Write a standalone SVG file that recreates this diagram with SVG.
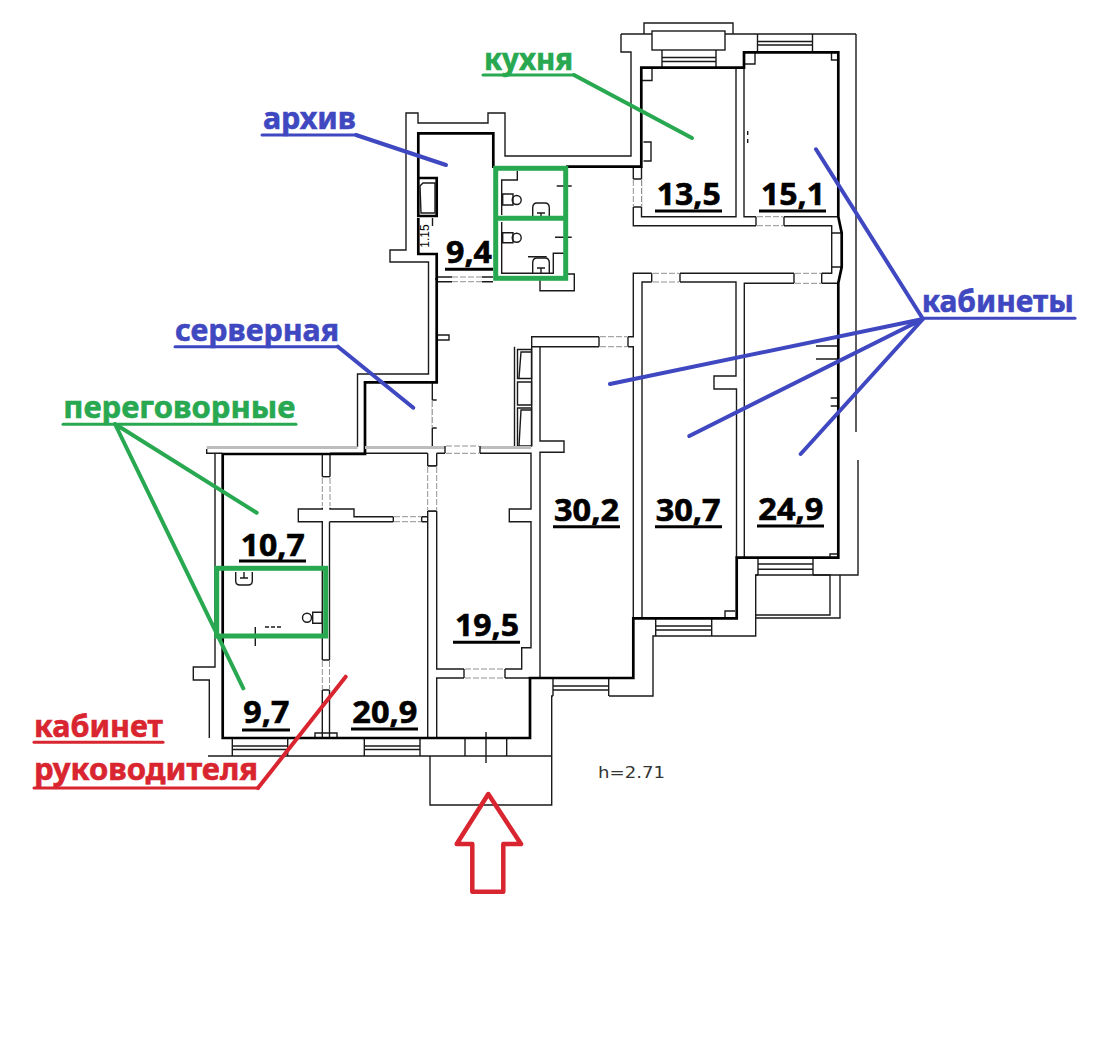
<svg xmlns="http://www.w3.org/2000/svg" width="1102" height="1064" viewBox="0 0 1102 1064">
<style>
.t{fill:none;stroke:#1a1a1a;stroke-width:1.4}
.k{fill:none;stroke:#000;stroke-width:2.7}
.g{fill:none;stroke:#bdbdbd;stroke-width:3}
.w{fill:#fff;stroke:#1a1a1a;stroke-width:1.4}
.d{fill:#fff;stroke:none}
.ds{fill:none;stroke:#909090;stroke-width:1;stroke-dasharray:6 2}
.n{font-family:"Noto Sans","Open Sans",sans-serif;font-weight:700;font-size:31px;fill:#000;stroke:#000;stroke-width:.6}
.l{font-family:"Noto Sans","Open Sans",sans-serif;font-weight:700;font-size:31px;stroke-width:.6}
.ub{fill:none;stroke:#000;stroke-width:3}
.blue{fill:#3f48c0;stroke:#3f48c0}.green{fill:#28a850;stroke:#28a850}.red{fill:#d9252f;stroke:#d9252f}
.lb{fill:none;stroke:#3f48c0;stroke-width:4;stroke-linecap:round}
.lg{fill:none;stroke:#28a850;stroke-width:4;stroke-linecap:round}
.lr{fill:none;stroke:#d9252f;stroke-width:4;stroke-linecap:round}
.bx{fill:none;stroke:#28a850;stroke-width:5}
</style>
<rect width="1102" height="1064" fill="#fff"/>
<g id="plan-thin">
<path class="t" d="M644 34V23H733V34M621 34H856M621 34V52H631V156H505V113H488V123H418V113H406V250H390V262H428.500V374H357.500V447"/>
<path class="t" d="M856 34V432M858 460V575H813M758 575H755.700V636H653V696H609M553 696H551.700V805H430V756M208 756H551.700"/>
<path class="t" d="M755.700 575H830V615H755.700M840 575V618H755.700"/>
<rect class="w" x="652" y="31" width="73" height="19"/>
<path class="t" d="M662 50V67M716 50V67M662 57.500H716M662 61.500H716"/>
<path class="t" d="M757.500 34V51M812.500 34V51M757.500 41.500H812.500M757.500 45H812.500"/>
<path class="t" d="M641.500 166.700V216.700H736V67.700M744 52.300V216.700H838M641.500 80.500H652V67.700M643.500 142H651V161H643.500M744 64H755V52.300M831.500 52.300V60H838"/>
<path class="t" d="M633.300 166.700V225.700H831.700V273.300H633.300V336.700H531.700V346.700H633.300V618M540 346.700V441H564V452.300H540V678"/>
<path class="t" d="M642 618V282H736V376H714V389H736.500V558M744.300 558V283.300H838M816 346H838V359H816M830.700 398H838V406H830.700M830 558V554H838M725 618V611H735"/>
<path class="t" d="M831.700 233H841.700M831.700 267H841.700"/>
<path class="t" d="M531.700 346.700V446M514.500 346.700V446M437 335H449V340H437"/>
<path class="w" d="M517.500 349.500H531.500V378.500H517.500ZM517.500 382H531.500V405H517.500ZM517.500 408H531.500V446H517.500Z"/>
<path class="t" d="M519 378L521 352H531M519 446L521 410H531"/>
<path class="t" d="M436.700 453.300H531V509H509.300V521.700H531V647.700H521.700V669H436.700V453.300M427.700 453.300V738M322.300 455V509H298.300V521.700H322.300V738M330 455V509H354V516.700H427.700M329.500 521.700H427.700M329.500 521.700V738M330 453.300H427.700M427.700 466H436.700M427.700 511H436.700"/>
<path class="t" d="M432.300 382V447M215 453V667H193.300V680H209.300V738M315 738V733H337V738"/>
<path class="t" d="M436.700 738V678H530M465 738V756M506.700 738V756M486 732V763M232.300 738V756M287.700 738V756M232.300 746H287.700M232.300 749.500H287.700M364.300 738V756M420 738V756M364.300 746H420M364.300 749.500H420"/>
<path class="t" d="M553 679V696M608.700 679V696M553 686H608.700M553 690H608.700M655.700 619V636M711.700 619V636M655.700 626H711.700M655.700 630H711.700M758 559V575M813 559V575M758 564H813M758 569.300H813"/>
<path class="t" d="M255.300 627V646"/>
<path class="t" d="M265 627H282" stroke-dasharray="4 2"/>
<path class="t" d="M747.700 131V147" stroke-dasharray="4 4"/>
</g>
<g id="walls-thick">
<path class="k" d="M566 166.700H641.300V67.700H744V52.300H838.300V216.700L841.700 233V267L838.300 283V557.700H736.700V618.300H633.300V678H530V738H222.700V454H365V382.300H436.700V278"/>
<path class="k" d="M418.300 178V133.300H493.300V168M418.300 218V254H436.700V280M418.300 178H436.700V216H418.300Z"/>
</g>
<g id="gray-band">
<path class="g" d="M206.700 447.500H357.500M365 447.500H531"/>
<path class="t" d="M206.700 449V453.300H222"/>
</g>
<g id="bath-fixtures">
<path class="t" d="M501.700 215V180H517.300V171M501.700 222V273.300H553.300V253.300H566"/>
<path class="t" d="M502.700 194H513V205H502.700ZM502.700 232.700H513V242.700H502.700Z"/>
<circle class="t" cx="516.700" cy="200" r="4.500"/><circle class="t" cx="516.700" cy="237.700" r="4.500"/>
<path class="t" d="M532.700 217V208Q532.700 203 537 203H545Q549.300 203 549.300 208V217M541 213V217M537 213H545"/>
<path class="t" d="M532.700 273V263Q532.700 258 537 258H545Q549.300 258 549.300 263V273M541 268V273M537 268H545"/>
<path class="t" d="M556.700 186H571.700M555 237.300H571.700M528 256.700H546.700M540 280V290.700H574.300V274H566"/>
<path class="t" d="M235.700 572V581Q235.700 585 240 585H248Q252.300 585 252.300 581V572M244 572V578M240 578H248"/>
<circle class="t" cx="307" cy="617.700" r="4.500"/>
<path class="t" d="M312.700 612.300H322.300V623.300H312.700Z"/>
<path class="t" d="M420 186L423 183H435V213H421Z"/>
<path class="t" d="M432.500 218V226"/>
<text x="429" y="236" transform="rotate(-90 429 236)" text-anchor="middle" font-family="Liberation Sans,sans-serif" font-size="12" fill="#000">1.15</text>
</g>
<g id="doors">
<rect class="d" x="756" y="215.500" width="28" height="11.500"/><path class="ds" d="M757 216.700H783M757 225.700H783"/><path class="t" d="M756 216.700V225.700M784 216.700V225.700"/>
<rect class="d" x="632" y="179" width="10.500" height="28"/><path class="ds" d="M633.300 180V206M641.500 180V206"/><path class="t" d="M633.300 179H641.500M633.300 207H641.500"/>
<rect class="d" x="651.700" y="272" width="28.300" height="11.500"/><path class="ds" d="M653 273.300H679M653 282H679"/><path class="t" d="M651.700 273.300V282M680 273.300V282"/>
<rect class="d" x="794" y="272" width="27.700" height="12.500"/><path class="ds" d="M795 273.300H821M795 283.300H821"/><path class="t" d="M794 273.300V283.300M821.700 273.300V283.300"/>
<rect class="d" x="599" y="335.500" width="29" height="12.500"/><path class="ds" d="M600 336.700H627M600 346.700H627"/><path class="t" d="M599 336.700V346.700M628 336.700V346.700"/>
<rect class="d" x="452" y="276.500" width="30" height="5.500"/><path class="ds" d="M452 277H482M452 281.700H482"/><path class="t" d="M438 277H452M438 281.700H452M482 277H493M482 281.700H493"/>
<rect class="d" x="431.300" y="400" width="4" height="28"/><path class="ds" d="M432.300 401V427"/><path class="t" d="M432.300 400H436.700M432.300 428H436.700"/>
<rect class="d" x="445" y="445" width="35" height="9.500"/><path class="ds" d="M446 446H479M446 453.300H479"/><path class="t" d="M445 446V453.300M480 446V453.300"/>
<rect class="d" x="321" y="476.700" width="10" height="31"/><path class="ds" d="M322.300 478V506M330 478V506"/><path class="t" d="M322.300 476.700H330"/>
<rect class="d" x="426.500" y="466" width="11.500" height="45"/><path class="ds" d="M427.700 467V510M436.700 467V510"/><path class="t" d="M427.700 466H436.700M427.700 511H436.700"/>
<rect class="d" x="393.300" y="515.500" width="28.400" height="7.500"/><path class="ds" d="M394 516.700H421M394 521.700H421"/><path class="t" d="M393.300 516.700V521.700M421.700 516.700V521.700"/>
<rect class="d" x="321" y="660" width="10" height="30"/><path class="ds" d="M322.300 661V689M329.500 661V689"/><path class="t" d="M322.300 660H329.500M322.300 690H329.500"/>
<rect class="d" x="464" y="668" width="41" height="11"/><path class="ds" d="M465 669H504M465 678H504"/><path class="t" d="M464 669V678M505 669V678"/>
</g>
<g id="highlights">
<rect class="bx" x="495.700" y="168.300" width="70" height="110"/>
<path class="bx" d="M495.700 218.300H565.700"/>
<rect class="bx" x="216.700" y="568.300" width="109" height="67.700"/>
</g>
<g id="room-numbers">
<text class="n" x="656.700" y="205" textLength="64" lengthAdjust="spacingAndGlyphs">13,5</text><path class="ub" d="M655 211H722"/>
<text class="n" x="761" y="205" textLength="64" lengthAdjust="spacingAndGlyphs">15,1</text><path class="ub" d="M759 211H826"/>
<text class="n" x="446" y="263.300" textLength="46" lengthAdjust="spacingAndGlyphs">9,4</text><path class="ub" d="M445 269.300H493"/>
<text class="n" x="554" y="520.700" textLength="65" lengthAdjust="spacingAndGlyphs">30,2</text><path class="ub" d="M553 526.700H620"/>
<text class="n" x="655.700" y="520.700" textLength="65" lengthAdjust="spacingAndGlyphs">30,7</text><path class="ub" d="M655 526.700H722"/>
<text class="n" x="758.300" y="520" textLength="65" lengthAdjust="spacingAndGlyphs">24,9</text><path class="ub" d="M757 526H824"/>
<text class="n" x="240.700" y="556" textLength="64" lengthAdjust="spacingAndGlyphs">10,7</text><path class="ub" d="M239 561H306"/>
<text class="n" x="455" y="635.700" textLength="64" lengthAdjust="spacingAndGlyphs">19,5</text><path class="ub" d="M453 642.300H520"/>
<text class="n" x="243.300" y="723.300" textLength="46" lengthAdjust="spacingAndGlyphs">9,7</text><path class="ub" d="M242 730H290"/>
<text class="n" x="352.300" y="723.300" textLength="65" lengthAdjust="spacingAndGlyphs">20,9</text><path class="ub" d="M351 729H418"/>
</g>
<text id="height-note" x="598" y="778" font-family="DejaVu Sans,sans-serif" font-size="16" fill="#333" textLength="67" lengthAdjust="spacingAndGlyphs">h=2.71</text>
<g id="connectors">
<path class="lg" d="M574 75L692 138"/>
<path class="lb" d="M356 135L446 165"/>
<path class="lb" d="M338 346.700L413.300 407.700"/>
<path class="lg" d="M115 424L256.700 512.700M115 424L243.300 688.300"/>
<path class="lb" d="M923 319L816 149.300M923 319L610 384M923 319L689.300 436M923 319L800.700 454"/>
<path class="lr" d="M258 788L345.700 676.700"/>
</g>
<g id="labels">
<text class="l green" x="484" y="70" textLength="89" lengthAdjust="spacingAndGlyphs">кухня</text><path class="lg" stroke-linecap="butt" style="stroke-width:3" d="M483 75H574"/>
<text class="l blue" x="263" y="129" textLength="93" lengthAdjust="spacingAndGlyphs">архив</text><path class="lb" style="stroke-width:3" d="M262 135H356"/>
<text class="l blue" x="175" y="340.700" textLength="164" lengthAdjust="spacingAndGlyphs">серверная</text><path class="lb" style="stroke-width:3" d="M175 346.700H338"/>
<text class="l green" x="63.300" y="418" textLength="232" lengthAdjust="spacingAndGlyphs">переговорные</text><path class="lg" style="stroke-width:3" d="M63 424.300H296"/>
<text class="l blue" x="921.700" y="311.700" textLength="152" lengthAdjust="spacingAndGlyphs">кабинеты</text><path class="lb" style="stroke-width:3" d="M921 318.300H1075"/>
<text class="l red" x="34" y="737.300" textLength="129" lengthAdjust="spacingAndGlyphs">кабинет</text><path class="lr" style="stroke-width:3" d="M34 742.300H163"/>
<text class="l red" x="34" y="780" textLength="224" lengthAdjust="spacingAndGlyphs">руководителя</text><path class="lr" style="stroke-width:3" d="M34 788H258"/>
</g>
<path id="entry-arrow" fill="none" stroke="#d9252f" stroke-width="4.500" stroke-linejoin="round" d="M488.300 794L521 844H503.300V891.700H472.300V844H456.700Z"/>
</svg>
